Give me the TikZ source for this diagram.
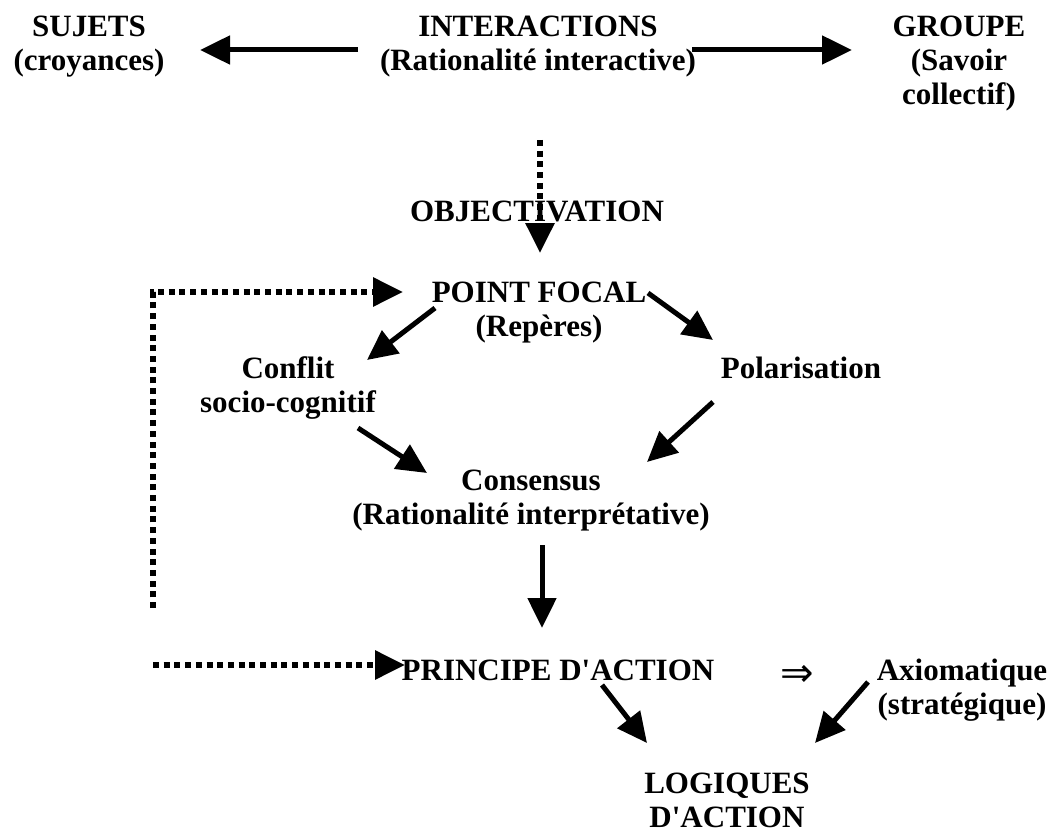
\documentclass[tikz,border=0pt]{standalone}
\usepackage{fontspec}
\setmainfont{Liberation Serif}
\newfontfamily\symfont{DejaVu Sans}
\usetikzlibrary{arrows.meta}
\newcommand\lns[1]{\begin{tabular}[t]{@{}c@{}}#1\end{tabular}}
\newcommand\apos{\textquotesingle}
\begin{document}
\begin{tikzpicture}[x=1pt,y=-1pt,
  lbl/.style={anchor=base, inner sep=0pt, font=\fontsize{31}{34}\selectfont\bfseries},
  arr/.style={line width=5pt, -{Triangle[length=30pt,width=28pt]}},
  dots/.style={line width=6pt, dash pattern=on 6pt off 4.7pt, -{Triangle[length=30pt,width=28pt]}}]
\useasboundingbox[fill=white] (0,0) rectangle (1053,832);
% nodes
\node[lbl] (sujets) at (89,37) {\lns{SUJETS\\(croyances)}};
\node[lbl] (inter) at (538,37) {\lns{INTERACTIONS\\(Rationalité interactive)}};
\node[lbl] (groupe) at (959,37) {\lns{GROUPE\\(Savoir\\collectif)}};
\node[lbl] (obj) at (537,222) {OBJECTIVATION};
\node[lbl] (pf) at (539,302) {\lns{POINT FOCAL\\(Repères)}};
\node[lbl] (conflit) at (288,378) {\lns{Conflit\\socio-cognitif}};
\node[lbl] (polar) at (801,378) {Polarisation};
\node[lbl] (cons) at (531,490) {\lns{Consensus\\(Rationalité interprétative)}};
\node[lbl] (princ) at (558,680) {PRINCIPE D\apos ACTION};
\node[inner sep=0pt, font=\fontsize{40}{40}\selectfont\symfont] (impl) at (797,676) {⇒};
\node[lbl] (axio) at (962,680) {\lns{Axiomatique\\(stratégique)}};
\node[lbl] (logi) at (727,793) {\lns{LOGIQUES\\D\apos ACTION}};
% connector end points
\coordinate (i-l) at (358,50);  \coordinate (s-r) at (200,50);
\coordinate (i-r) at (692,50);  \coordinate (g-l) at (852,50);
\coordinate (i-d) at (540,140); \coordinate (pf-t) at (540,253);
\coordinate (fb0) at (153,608); \coordinate (fb1) at (153,292); \coordinate (pf-l) at (403,292);
\coordinate (fb2) at (153,665); \coordinate (pr-l) at (405,665);
\coordinate (pf-a) at (435,308); \coordinate (co-t) at (367,360);
\coordinate (pf-b) at (648,293); \coordinate (po-t) at (713,340);
\coordinate (co-b) at (358,428); \coordinate (cs-l) at (427,473);
\coordinate (po-b) at (713,402); \coordinate (cs-r) at (647,462);
\coordinate (cs-b) at (542,545); \coordinate (pr-t) at (542,628);
\coordinate (pr-b) at (602,685); \coordinate (lo-l) at (647,743);
\coordinate (ax-b) at (868,682); \coordinate (lo-r) at (815,743);
% connectors
\draw[arr] (i-l) -- (s-r);
\draw[arr] (i-r) -- (g-l);
\draw[dots] (i-d) -- (pf-t);
\draw[dots] (fb0) -- (fb1) -- (pf-l);
\draw[dots] (fb2) -- (pr-l);
\draw[arr] (pf-a) -- (co-t);
\draw[arr] (pf-b) -- (po-t);
\draw[arr] (co-b) -- (cs-l);
\draw[arr] (po-b) -- (cs-r);
\draw[arr] (cs-b) -- (pr-t);
\draw[arr] (pr-b) -- (lo-l);
\draw[arr] (ax-b) -- (lo-r);
\end{tikzpicture}
\end{document}
